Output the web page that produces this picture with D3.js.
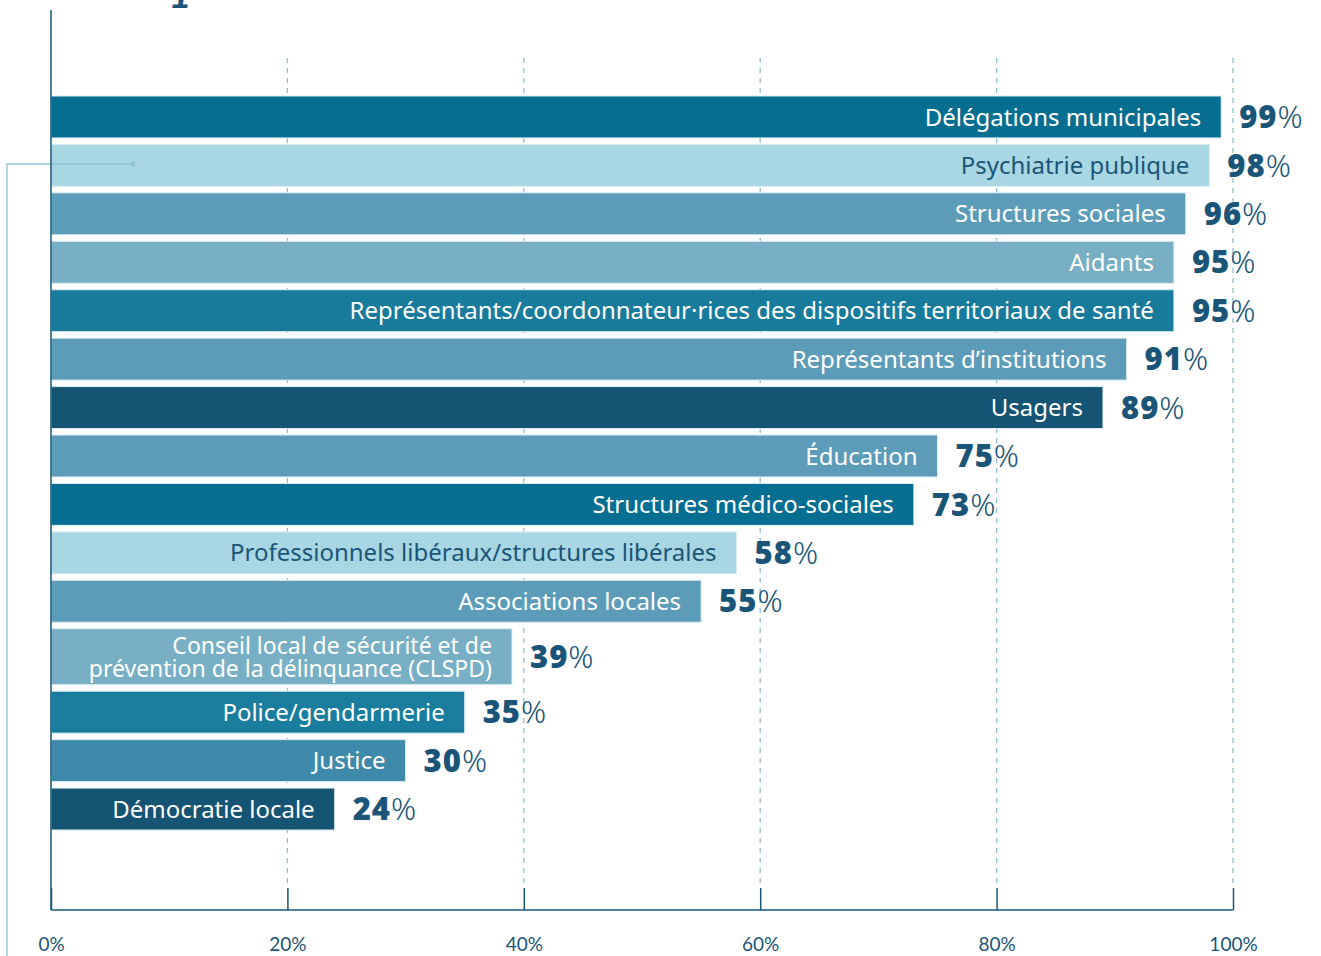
<!DOCTYPE html>
<html>
<head>
<meta charset="utf-8">
<script src="https://cdn.jsdelivr.net/npm/d3@7"></script>
<style>
  body { margin: 0; background: #fff; }
  svg { display: block; font-family: "Noto Sans", "Lato", sans-serif; }
</style>
</head>
<body>
<svg width="1321" height="956"></svg>
<script>
// data
var categories = [
  "Délégations municipales",
  "Psychiatrie publique",
  "Structures sociales",
  "Aidants",
  "Représentants/coordonnateur·rices des dispositifs territoriaux de santé",
  "Représentants d’institutions",
  "Usagers",
  "Éducation",
  "Structures médico-sociales",
  "Professionnels libéraux/structures libérales",
  "Associations locales",
  "Conseil local de sécurité et de\nprévention de la délinquance (CLSPD)",
  "Police/gendarmerie",
  "Justice",
  "Démocratie locale"
];
var values = [99, 98, 96, 95, 95, 91, 89, 75, 73, 58, 55, 39, 35, 30, 24];
var barColors = [
  "#066f91", "#a8d6e2", "#5d9cb9", "#78afc4", "#197b9b",
  "#5d9cb9", "#155473", "#5d9cb9", "#066f91", "#a8d6e2",
  "#5d9cb9", "#78afc4", "#1a7d9d", "#3f8aab", "#155473"
];
var tickValues = [0, 20, 40, 60, 80, 100];

var svg = d3.select("svg");
var dark = "#1a5577";
var gridColor = "#8dbfd6";

// x scale
var x = d3.scaleLinear().domain([0, 100]).range([51, 1233]);

// rows can be taller when the label wraps on two lines
var rows = categories.map(function(c, i) {
  var lines = c.split("\n");
  return { name: c, lines: lines, value: values[i], color: barColors[i], units: lines.length > 1 ? 1.29 : 1 };
});
var acc = 0;
rows.forEach(function(r) { r.start = acc; acc += r.units; });
var y = d3.scaleLinear().domain([0, acc]).range([92.75, 833.25]);
var rowPad = 6.5;

// bit of the title cut at the top
svg.append("text")
  .attr("x", 180).attr("y", 8)
  .attr("text-anchor", "middle")
  .attr("fill", dark)
  .style("font-family", "Lato, sans-serif")
  .style("font-size", "40px")
  .style("font-style", "italic")
  .style("font-weight", 700)
  .text("1");

// grid lines (behind bars)
svg.selectAll(".grid")
  .data(tickValues.filter(d => d > 0))
  .enter().append("line")
  .attr("class", "grid")
  .attr("x1", d => x(d)).attr("x2", d => x(d))
  .attr("y1", 58).attr("y2", 888)
  .attr("stroke", gridColor)
  .attr("stroke-width", 1.3)
  .attr("stroke-dasharray", "5,5");

// bars
var g = svg.selectAll(".row")
  .data(rows)
  .enter().append("g")
  .attr("class", "row");

g.append("rect")
  .attr("x", x(0))
  .attr("y", d => y(d.start) + rowPad / 2)
  .attr("width", d => x(d.value) - x(0))
  .attr("height", d => y(d.start + d.units) - y(d.start) - rowPad)
  .attr("fill", d => d.color)
  .attr("stroke", "#dcecf2")
  .attr("stroke-width", 1);

// labels inside the bars
g.each(function(d) {
  var cy = (y(d.start) + y(d.start + d.units)) / 2;
  var lh = 23;
  var sel = d3.select(this);
  d.lines.forEach(function(line, k) {
    sel.append("text")
      .attr("text-anchor", "end")
      .attr("fill", d.color === "#a8d6e2" ? dark : "#fff")
      .style("font-size", d.lines.length > 1 ? "23px" : "24px")
      .attr("x", x(d.value) - 20)
      .attr("y", cy + (k - (d.lines.length - 1) / 2) * lh)
      .attr("dy", "0.36em")
      .text(line);
  });
});

// values after the bars
var vt = g.append("text")
  .attr("x", d => x(d.value) + 18)
  .attr("y", d => (y(d.start) + y(d.start + d.units)) / 2)
  .attr("dy", "0.36em")
  .attr("fill", dark)
  .style("font-size", "31px");
vt.append("tspan").style("font-weight", 900).style("letter-spacing", "1px").text(d => d.value);
vt.append("tspan").style("font-weight", 300).text("%");

// left connector annotation (on top of the bars)
svg.append("path")
  .attr("d", "M133,164H7V956")
  .attr("fill", "none")
  .attr("stroke", "#8fc3d6")
  .attr("stroke-width", 1.3);
svg.append("circle")
  .attr("cx", 133).attr("cy", 164).attr("r", 2.5)
  .attr("fill", "#8fc3d6");

// axes
svg.append("line")
  .attr("x1", x(0)).attr("x2", x(0))
  .attr("y1", 10).attr("y2", 910)
  .attr("stroke", dark).attr("stroke-width", 1.5);

var xAxis = d3.axisBottom(x)
  .tickValues(tickValues)
  .tickSize(22)
  .tickFormat(d => d + "%");
var ax = svg.append("g")
  .attr("transform", "translate(0,888)")
  .call(xAxis);
ax.select(".domain")
  .attr("d", "M" + x(0) + ",22H" + x(100))
  .attr("stroke", dark).attr("stroke-width", 1.5);
ax.selectAll(".tick line").attr("stroke", dark).attr("stroke-width", 1.5);
ax.selectAll(".tick text")
  .attr("y", 56)
  .attr("dy", "0.36em")
  .attr("fill", dark)
  .style("font-size", "19px")
  .style("font-family", "Lato, sans-serif");
</script>
</body>
</html>
